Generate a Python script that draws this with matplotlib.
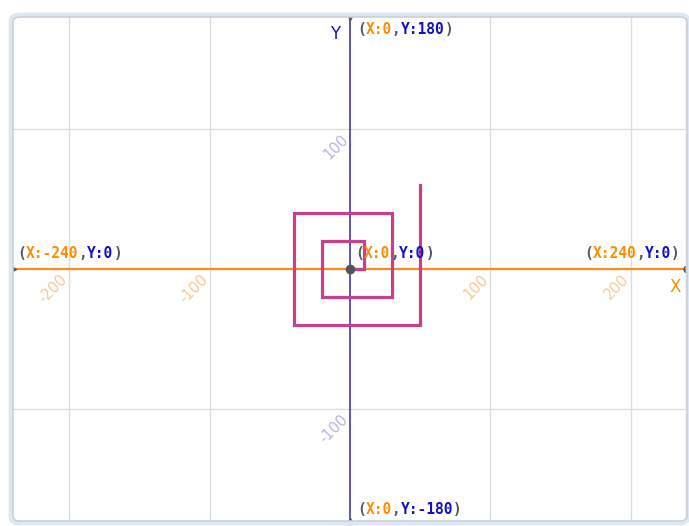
import matplotlib
matplotlib.use("Agg")
from matplotlib import pyplot as plt
from matplotlib.patches import FancyBboxPatch

# spiral vertices (stage coordinates)
path_x = [0, 10, 10, -20, -20, 30, 30, -40, -40, 50, 50]
path_y = [0, 0, 20, 20, -20, -20, 40, 40, -40, -40, 60]

x_ticks = [-200, -100, 100, 200]
y_ticks = [-100, 100]
x_lim = [-240, 240]
y_lim = [-180, 180]

ORANGE = '#ff8c00'
BLUE = '#1010c8'
GRAY = '#555566'

fig = plt.figure(figsize=(6.89, 5.26), dpi=100)
ax = fig.add_axes([13/689, 5/526, 674/689, 504/526])
ax.set_xlim(x_lim)
ax.set_ylim(y_lim)
ax.set_xticks([])
ax.set_yticks([])
for s in ax.spines.values():
    s.set_visible(False)

# border round the stage
fig.patches.append(FancyBboxPatch((11/689, 3/526), 677/689, 508/526,
                                  boxstyle="round,pad=0,rounding_size=0.012",
                                  transform=fig.transFigure, fc='none',
                                  ec='#dde8f6', lw=3.5, zorder=0))
fig.patches.append(FancyBboxPatch((13/689, 5/526), 674/689, 504/526,
                                  boxstyle="round,pad=0,rounding_size=0.01",
                                  transform=fig.transFigure, fc='none',
                                  ec='#c8ccd2', lw=1, zorder=0))

# grid
for t in x_ticks:
    ax.axvline(t, color='#dcdcdc', lw=1, zorder=1)
for t in y_ticks:
    ax.axhline(t, color='#dcdcdc', lw=1, zorder=1)

# axes
ax.plot(x_lim, [0, 0], color='#fa8c1e', lw=1.6, zorder=2)
ax.plot([0, 0], y_lim, color='#3224aa', lw=1.1, zorder=2)
ax.plot([x_lim[0]], [0], marker='>', color='#555555', ms=5, clip_on=False, zorder=3)
ax.plot([x_lim[1]], [0], marker='o', color='#555555', ms=5, clip_on=False, zorder=3)
ax.plot([0], [y_lim[1]], marker='v', color='#555555', ms=5, clip_on=False, zorder=3)
ax.plot([0], [y_lim[0]], marker='^', color='#555555', ms=5, clip_on=False, zorder=3)

# tick labels
for t in x_ticks:
    ax.annotate(str(t), (t, 0), xytext=(-3, -6), textcoords='offset points',
                ha='right', va='center', rotation=45, rotation_mode='anchor',
                color='#f9c896', fontsize=10.5, zorder=2)
for t in y_ticks:
    ax.annotate(str(t), (0, t), xytext=(-3, -6), textcoords='offset points',
                ha='right', va='center', rotation=45, rotation_mode='anchor',
                color='#b4b4f0', fontsize=10.5, zorder=2)

# spiral
ax.plot(path_x, path_y, color='#c8408c', lw=2.3, solid_joinstyle='miter', zorder=4)
ax.plot([0], [0], marker='o', color='#555555', ms=6, zorder=5)


def coord_label(x, y, xv, yv, dx, dy, align='left'):
    parts = [('(', GRAY), ('X:' + str(xv), ORANGE), (',', GRAY),
             ('Y:' + str(yv), BLUE), (')', GRAY)]
    kw = dict(family='DejaVu Sans Mono', weight='bold', fontsize=10.5, va='center', zorder=6)
    if align == 'left':
        prev = ax.annotate(parts[0][0], (x, y), xytext=(dx, dy), textcoords='offset points',
                           color=parts[0][1], ha='left', **kw)
        for txt, c in parts[1:]:
            prev = ax.annotate(txt, (1, 0.5), xycoords=prev, color=c, ha='left', **kw)
    else:
        prev = ax.annotate(parts[-1][0], (x, y), xytext=(dx, dy), textcoords='offset points',
                           color=parts[-1][1], ha='right', **kw)
        for txt, c in reversed(parts[:-1]):
            prev = ax.annotate(txt, (0, 0.5), xycoords=prev, color=c, ha='right', **kw)


coord_label(-240, 0, -240, 0, 3, 11)
coord_label(240, 0, 240, 0, -5, 11, align='right')
coord_label(0, 180, 0, 180, 5, -9)
coord_label(0, -180, 0, -180, 5, 8)
coord_label(0, 0, 0, 0, 4, 11)

ax.text(231.5, -12.5, 'X', color=ORANGE, fontsize=12, ha='center', va='center')
ax.text(-10.5, 168, 'Y', color=BLUE, fontsize=12, ha='center', va='center')

plt.savefig('out.png', dpi=100)
